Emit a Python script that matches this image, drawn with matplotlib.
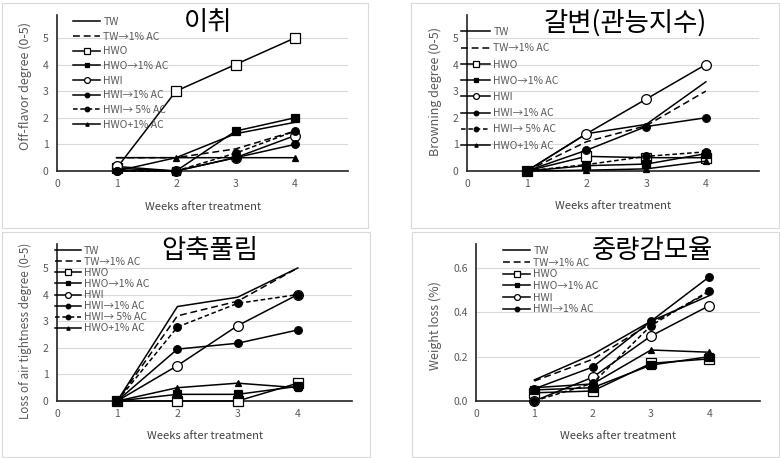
import matplotlib
matplotlib.use("Agg")
import matplotlib.pyplot as plt
from matplotlib.patches import Rectangle

plt.rcParams['font.family'] = ['Noto Sans CJK KR', 'DejaVu Sans']

weeks = [1, 2, 3, 4]
series_names = ["TW", "TW\u21921% AC", "HWO", "HWO\u21921% AC", "HWI",
                "HWI\u21921% AC", "HWI\u2192 5% AC", "HWO+1% AC"]

# Off-flavor degree (0-5)
offflavor = {
    "TW":            [0.5, 0.5, 1.4, 1.83],
    "TW\u21921% AC": [0.5, 0.5, 0.83, 1.5],
    "HWO":           [0.1, 3.0, 4.0, 5.0],
    "HWO\u21921% AC": [0.1, 0.0, 1.5, 2.0],
    "HWI":           [0.17, 0.0, 0.5, 1.33],
    "HWI\u21921% AC": [0.0, 0.0, 0.5, 1.0],
    "HWI\u2192 5% AC": [0.0, 0.0, 0.67, 1.5],
    "HWO+1% AC":     [0.0, 0.5, 0.5, 0.5],
}
# Browning degree (0-5)
browning = {
    "TW":            [0.0, 1.4, 1.75, 3.35],
    "TW\u21921% AC": [0.0, 1.1, 1.7, 3.0],
    "HWO":           [0.0, 0.55, 0.5, 0.5],
    "HWO\u21921% AC": [0.0, 0.2, 0.26, 0.65],
    "HWI":           [0.0, 1.4, 2.7, 4.0],
    "HWI\u21921% AC": [0.0, 0.78, 1.67, 2.0],
    "HWI\u2192 5% AC": [0.0, 0.24, 0.55, 0.72],
    "HWO+1% AC":     [0.0, 0.03, 0.08, 0.37],
}
# Loss of air tightness degree (0-5)
airtight = {
    "TW":            [0.0, 3.55, 3.9, 5.0],
    "TW\u21921% AC": [0.0, 3.2, 3.75, 5.0],
    "HWO":           [0.0, 0.0, 0.0, 0.67],
    "HWO\u21921% AC": [0.0, 0.25, 0.25, 0.55],
    "HWI":           [0.0, 1.33, 2.83, 4.0],
    "HWI\u21921% AC": [0.0, 1.95, 2.17, 2.67],
    "HWI\u2192 5% AC": [0.0, 2.78, 3.67, 4.0],
    "HWO+1% AC":     [0.0, 0.5, 0.67, 0.5],
}
# Weight loss (%)
weightloss = {
    "TW":            [0.095, 0.21, 0.36, 0.475],
    "TW\u21921% AC": [0.09, 0.188, 0.35, 0.49],
    "HWO":           [0.037, 0.045, 0.17, 0.19],
    "HWO\u21921% AC": [0.05, 0.06, 0.162, 0.2],
    "HWI":           [0.0, 0.107, 0.293, 0.43],
    "HWI\u21921% AC": [0.055, 0.153, 0.36, 0.56],
    "HWI\u2192 5% AC": [0.0, 0.08, 0.34, 0.497],
    "HWO+1% AC":     [0.06, 0.077, 0.23, 0.22],
}

titles = ["이취", "갈변(관능지수)", "압축풀림", "중량감모율"]
ylabels = ["Off-flavor degree (0-5)", "Browning degree (0-5)",
           "Loss of air tightness degree (0-5)", "Weight loss (%)"]
xlabel = "Weeks after treatment"
xticks = [0, 1, 2, 3, 4]

styles = {
    "TW":            dict(ls='-', marker=None),
    "TW\u21921% AC": dict(ls=(0, (4.5, 2.5)), marker=None),
    "HWO":           dict(ls='-', marker='s', mfc='white', ms=6.5),
    "HWO\u21921% AC": dict(ls='-', marker='s', mfc='black', ms=5.5),
    "HWI":           dict(ls='-', marker='o', mfc='white', ms=7),
    "HWI\u21921% AC": dict(ls='-', marker='o', mfc='black', ms=5.5),
    "HWI\u2192 5% AC": dict(ls=(0, (3, 1.8)), marker='o', mfc='black', ms=5.5),
    "HWO+1% AC":     dict(ls='-', marker='^', mfc='black', ms=4),
}

W, H = 780, 458
fig = plt.figure(figsize=(7.8, 4.58), dpi=100)

def px_axes(l, r, t, b):
    return [l / W, (H - b) / H, (r - l) / W, (b - t) / H]

panels = [
    dict(data=offflavor, ax=px_axes(57, 348, 15, 171), xmax=4.89, ymax=5.86,
         yt=[0, 1, 2, 3, 4, 5], fmt="{:.0f}", n_leg=8, leg=(73, 17), hl=2.6, lsp=0.45,
         title=(208, 23), border=(2, 3, 368, 228), ylab=(25, 86), ylfs=9, xlab=(203, 207)),
    dict(data=browning, ax=px_axes(467, 759, 15, 171), xmax=4.89, ymax=5.86,
         yt=[0, 1, 2, 3, 4, 5], fmt="{:.0f}", n_leg=8, leg=(461, 27), hl=2.8, lsp=0.6,
         title=(625, 23), border=(411, 3, 779, 228), ylab=(435, 92), ylfs=9, xlab=(613, 206)),
    dict(data=airtight, ax=px_axes(57, 352, 244, 401), xmax=4.9, ymax=5.9,
         yt=[0, 1, 2, 3, 4, 5], fmt="{:.0f}", n_leg=8, leg=(55, 246), hl=2.5, lsp=0.1,
         title=(210, 251), border=(2, 232, 370, 457), ylab=(25, 331), ylfs=8.4, xlab=(205, 436)),
    dict(data=weightloss, ax=px_axes(476, 760, 244, 401), xmax=4.87, ymax=0.708,
         yt=[0.0, 0.2, 0.4, 0.6], fmt="{:.1f}", n_leg=6, leg=(503, 246), hl=2.6, lsp=0.16,
         title=(652, 251), border=(412, 232, 779, 457), ylab=(435, 326), ylfs=9, xlab=(618, 436)),
]

grey = '#595959'
for i, p in enumerate(panels):
    bl, bt, br, bb = p['border']
    fig.patches.append(Rectangle((bl / W, (H - bb) / H), (br - bl) / W, (bb - bt) / H,
                                 transform=fig.transFigure, fill=False,
                                 edgecolor='#d9d9d9', lw=0.8))
    ax = fig.add_axes(p['ax'])
    ax.set_facecolor('none')
    handles = []
    for name in series_names:
        st = styles[name]
        ln, = ax.plot(weeks, p['data'][name], color='black', lw=1.1, ls=st['ls'],
                      marker=st['marker'], mfc=st.get('mfc', 'black'), mec='black',
                      ms=st.get('ms', 5), mew=0.9, label=name, zorder=3, clip_on=False)
        handles.append(ln)
    ax.set_xlim(0, p['xmax'])
    ax.set_ylim(0, p['ymax'])
    ax.set_xticks(xticks)
    ax.set_yticks(p['yt'])
    ax.set_yticklabels([p['fmt'].format(v) for v in p['yt']])
    ax.tick_params(length=0, labelsize=7.5, labelcolor=grey, pad=6)
    for s in ['top', 'right']:
        ax.spines[s].set_visible(False)
    ax.spines['left'].set_color('#222222')
    ax.spines['bottom'].set_color('#222222')
    ax.spines['left'].set_linewidth(1.2)
    ax.spines['bottom'].set_linewidth(1.2)
    for v in p['yt'][1:]:
        ax.axhline(v, color='#d9d9d9', lw=0.8, zorder=0)
    fig.text(p['ylab'][0] / W, 1 - p['ylab'][1] / H,
             ylabels[i], rotation=90, ha='center', va='center', fontsize=p['ylfs'], color=grey)
    fig.text(p['xlab'][0] / W, 1 - p['xlab'][1] / H, xlabel, ha='center', va='center',
             fontsize=8, color='#404040')
    fig.text(p['title'][0] / W, 1 - p['title'][1] / H, titles[i], ha='center', va='center',
             fontsize=19, color='black')
    lx, ly = p['leg']
    ax.legend(handles[:p['n_leg']], series_names[:p['n_leg']], loc='upper left',
              bbox_to_anchor=(lx / W, 1 - ly / H), bbox_transform=fig.transFigure,
              frameon=False, fontsize=7.5, handlelength=p['hl'], handletextpad=0.3,
              labelspacing=p['lsp'], borderpad=0, borderaxespad=0, markerscale=0.6,
              labelcolor=grey)

fig.savefig("out.png", dpi=100)
